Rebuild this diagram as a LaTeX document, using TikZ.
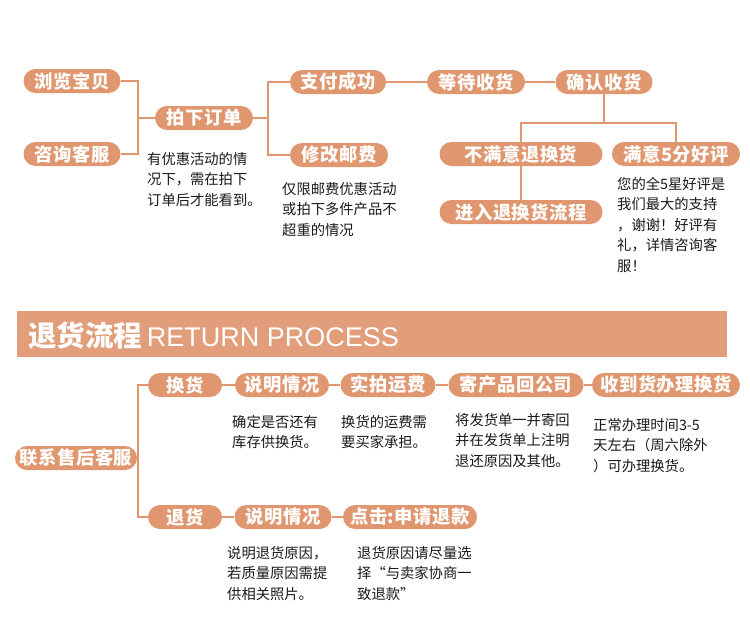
\documentclass[tikz,border=0pt]{standalone}
\usepackage{fontspec}
\setmainfont{Noto Sans CJK SC}
\newfontfamily\latinfont{Liberation Sans}
\usetikzlibrary{positioning}
\definecolor{peach}{RGB}{224,150,110}

\begin{document}
\begin{tikzpicture}[
    x=1pt, y=-1pt,
    pill/.style={fill=peach, rounded corners=12pt, minimum height=24pt, inner sep=0pt, text=white,
                 font=\fontsize{18.3}{20}\selectfont\bfseries\addfontfeature{LetterSpace=3}},
    note/.style={anchor=north west, inner sep=0pt, align=left, text=black!90,
                 font=\fontsize{14.3}{20.5}\selectfont},
    link/.style={draw=peach, line width=2.8pt}
]
\useasboundingbox (0,0) rectangle (750,629);

% shopping flow
\node[pill, minimum width=97pt] (browse) at (72,81) {浏览宝贝};
\node[pill, minimum width=97pt] (consult) at (72,154) {咨询客服};
\node[pill, minimum width=98pt] (order) at (204,118) {拍下订单};
\node[pill, minimum width=96pt] (paid) at (338,82) {支付成功};
\node[pill, minimum width=98pt] (postage) at (339,155) {修改邮费};
\node[pill, minimum width=98pt] (wait) at (476,82) {等待收货};
\node[pill, minimum width=97pt] (confirm) at (604,82) {确认收货};
\node[pill, minimum width=163pt] (unhappy) at (521,154) {不满意退换货};
\node[pill, minimum width=128pt] (happy) at (676,154) {满意5分好评};
\node[pill, minimum width=163pt] (enter) at (521,212) {进入退换货流程};

\node[note] (ordernote) at (147,152) {有优惠活动的情\\况下，需在拍下\\订单后才能看到。};
\node[note] (postnote) at (282,182) {仅限邮费优惠活动\\或拍下多件产品不\\超重的情况};
\node[note] (happynote) at (617,177) {您的全5星好评是\\我们最大的支持\\，谢谢！好评有\\礼，详情咨询客\\服！};

\coordinate (j1) at (138,118);
\coordinate (j2) at (268,118);
\coordinate (j3) at (604,123);
\draw[link] (browse.east) -| (j1) |- (consult.east);
\draw[link] (j1) -- (order.west);
\draw[link] (paid.west) -| (j2) |- (postage.west);
\draw[link] (order.east) -- (j2);
\draw[link] (paid.east) -- (wait.west);
\draw[link] (wait.east) -- (confirm.west);
\draw[link] (confirm.south) -- (j3);
\draw[link] (unhappy.north) |- (j3) -| (happy.north);
\draw[link] (unhappy.south) -- (enter.north);

% banner
\node[fill=peach!92!white, minimum width=710pt, minimum height=46pt, inner sep=0pt, anchor=north west] (banner) at (17,311) {};
\node[anchor=west, inner sep=0pt, text=white] (title) at (28,336)
  {\fontsize{28.5}{30}\selectfont\bfseries 退货流程\,\latinfont\mdseries\fontsize{27}{30}\selectfont RETURN PROCESS};

% return flow
\node[pill, minimum width=122pt] (service) at (76,458) {联系售后客服};
\node[pill, minimum width=74pt] (exchange) at (185,385) {换货};
\node[pill, minimum width=94pt] (explainA) at (282,385) {说明情况};
\node[pill, minimum width=95pt] (freight) at (388,385) {实拍运费};
\node[pill, minimum width=135pt] (sendback) at (516,385) {寄产品回公司};
\node[pill, minimum width=148pt] (received) at (666,385) {收到货办理换货};
\node[pill, minimum width=74pt] (refund) at (185,517) {退货};
\node[pill, minimum width=97pt] (explainB) at (283,517) {说明情况};
\node[pill, minimum width=134pt] (apply) at (410,517) {点击:申请退款};

\node[note] (explainAnote) at (232,415) {确定是否还有\\库存供换货。};
\node[note] (freightnote) at (341,415) {换货的运费需\\要买家承担。};
\node[note] (sendbacknote) at (455,413) {将发货单一并寄回\\并在发货单上注明\\退还原因及其他。};
\node[note] (receivednote) at (593,418) {正常办理时间3-5\\天左右（周六除外\\）可办理换货。};
\node[note] (explainBnote) at (227,546) {说明退货原因，\\若质量原因需提\\供相关照片。};
\node[note] (applynote) at (357,546) {退货原因请尽量选\\择“与卖家协商一\\致退款”};

\coordinate (j4) at (138,458);
\draw[link] (exchange.west) -| (j4) |- (refund.west);
\draw[link] (service.east) -- (j4);
\foreach \a/\b in {exchange/explainA, explainA/freight, freight/sendback, sendback/received, refund/explainB, explainB/apply}
  \draw[link] (\a.east) -- (\b.west);
\end{tikzpicture}
\end{document}
